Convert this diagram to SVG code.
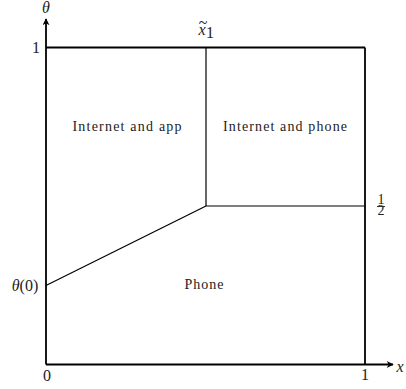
<svg xmlns="http://www.w3.org/2000/svg" width="406" height="389" viewBox="0 0 406 389">
<style>
.ax{stroke:#000;stroke-width:1.8;fill:none}
.bd{stroke:#000;stroke-width:1.8;fill:none}
.in{stroke:#000;stroke-width:1.2;fill:none}
.lbl{font-family:"Liberation Serif","Times New Roman",serif;font-size:14px;fill:#222;text-anchor:middle}
.m{font-family:"Liberation Serif","Times New Roman",serif;font-size:16px;fill:#222;text-anchor:middle}
</style>
<defs>
<marker id="ar" viewBox="0 0 10 10" refX="9" refY="5" markerWidth="8" markerHeight="7" markerUnits="userSpaceOnUse" orient="auto">
<path d="M0,0 L10,5 L0,10 L3,5 Z" fill="#000"/>
</marker>
</defs>
<g id="connectors">
<line class="ax" x1="46" y1="364.5" x2="46" y2="19" marker-end="url(#ar)"/>
<line class="ax" x1="46" y1="364.5" x2="393" y2="364.5" marker-end="url(#ar)"/>
<line class="bd" x1="46" y1="47.5" x2="365" y2="47.5"/>
<line class="bd" x1="365" y1="47.5" x2="365" y2="364.5"/>
<line class="in" x1="206" y1="47.5" x2="206" y2="206"/>
<line class="in" x1="206" y1="206" x2="365" y2="206"/>
<line class="in" x1="46" y1="285.5" x2="206" y2="206"/>
</g>
<g id="region-internet-app"><text class="lbl" x="127" y="131" textLength="109" lengthAdjust="spacing">Internet and app</text></g>
<g id="region-internet-phone"><text class="lbl" x="285" y="131" textLength="124" lengthAdjust="spacing">Internet and phone</text></g>
<g id="region-phone"><text class="lbl" x="204" y="289" textLength="39" lengthAdjust="spacing">Phone</text></g>
<g id="labels">
<text class="m" x="46" y="13" font-style="italic">θ</text>
<text class="m" x="36" y="53">1</text>
<text class="m" x="202" y="35" font-style="italic">x</text>
<text class="m" x="203" y="28" font-size="12">~</text>
<text class="m" x="210" y="38" font-size="11">1</text>
<text class="lbl" x="381" y="204" font-size="9.5">1</text>
<line x1="377" y1="206.5" x2="385" y2="206.5" stroke="#000" stroke-width="0.8"/>
<text class="lbl" x="381" y="215" font-size="9.5">2</text>
<text class="m" x="25" y="291"><tspan font-style="italic">θ</tspan>(0)</text>
<text class="m" x="47" y="381">0</text>
<text class="m" x="365" y="380">1</text>
<text class="m" x="400" y="372" font-style="italic" text-anchor="start">x</text>
</g>
</svg>
